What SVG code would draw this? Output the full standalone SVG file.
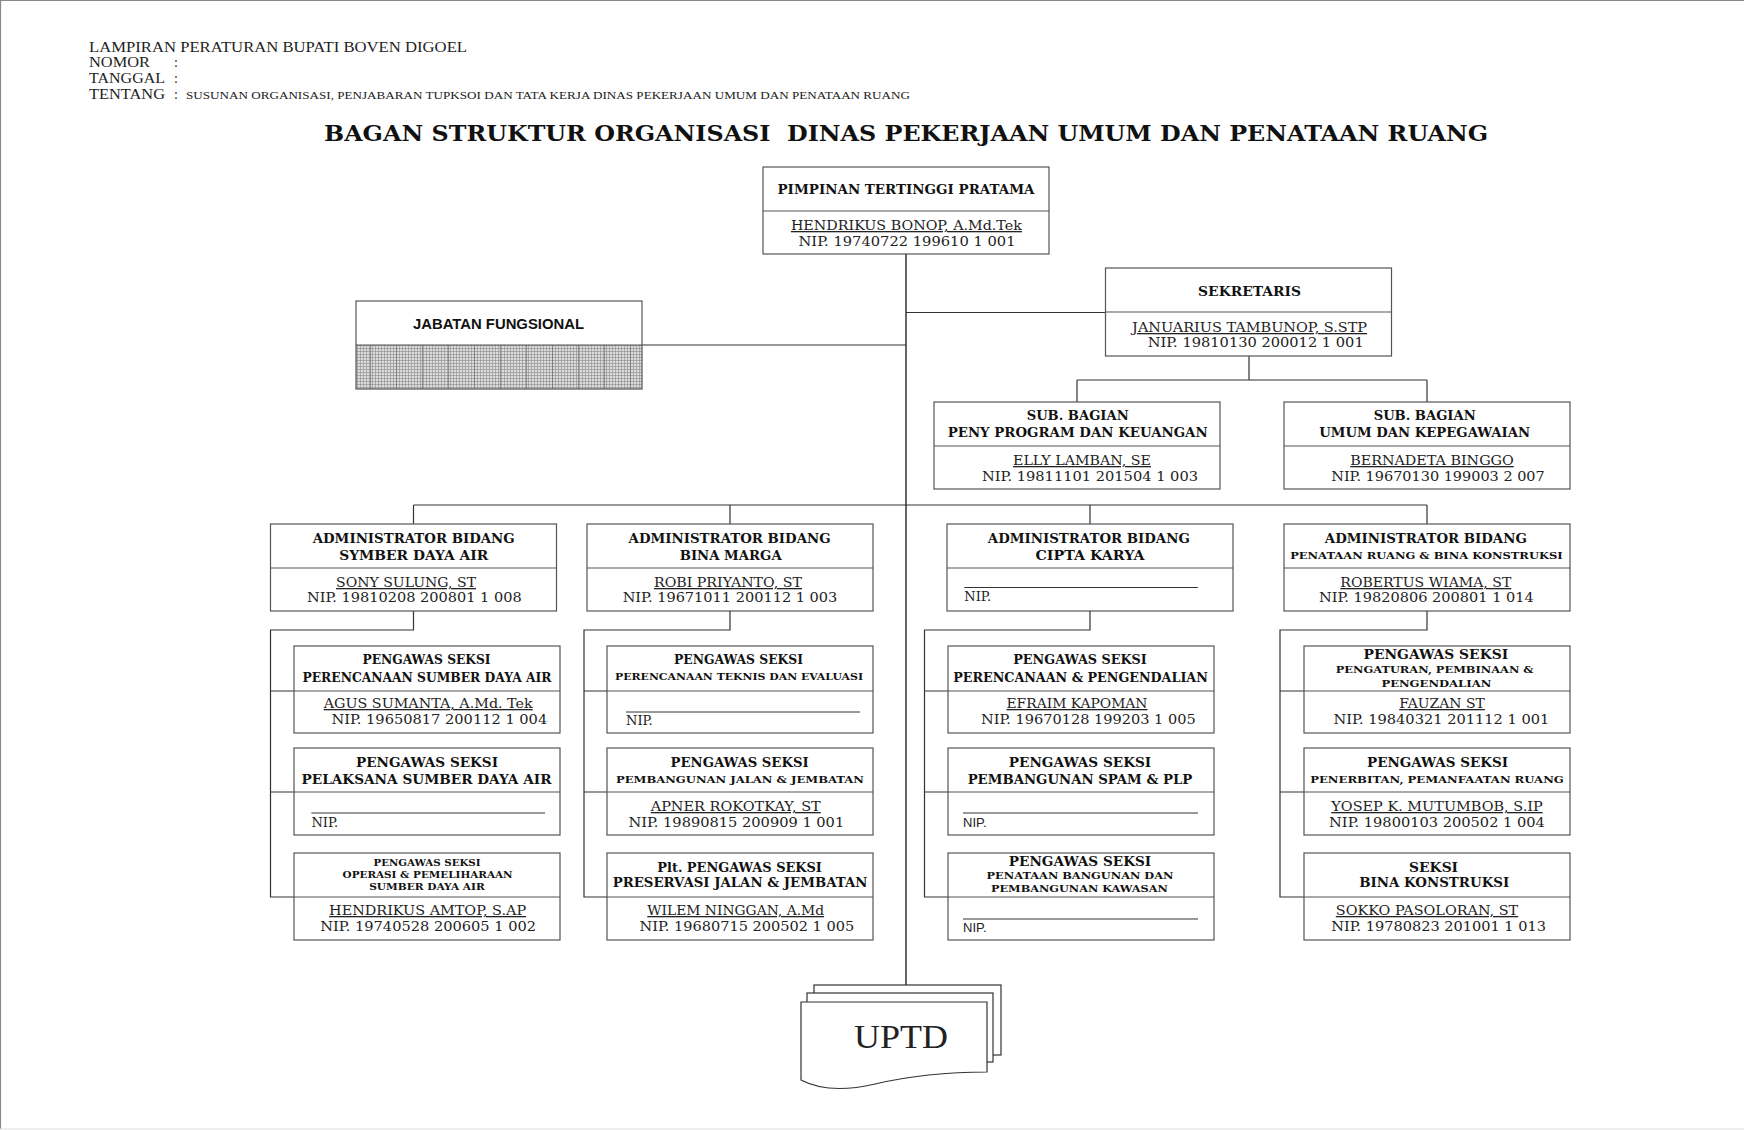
<svg xmlns="http://www.w3.org/2000/svg" width="1744" height="1130" viewBox="0 0 1744 1130">
<defs>
<style>
.bx{fill:#fff;stroke:#555;stroke-width:1.2}
.dv{fill:none;stroke:#555;stroke-width:1.2}
.ln{fill:none;stroke:#333;stroke-width:1.2}
.hd{font-family:"Liberation Serif",serif;font-size:14px;fill:#222}
.tt{font-family:"DejaVu Serif",serif;font-weight:bold;font-size:22px;text-anchor:middle;fill:#111}
.t{font-family:"DejaVu Serif",serif;font-weight:bold;font-size:12px;text-anchor:middle;fill:#111}
.s{font-family:"DejaVu Serif",serif;font-weight:bold;font-size:9.5px;text-anchor:middle;fill:#111}
.n{font-family:"DejaVu Serif",serif;font-size:13px;text-anchor:middle;fill:#222}
.u{text-decoration:underline}
.l{text-anchor:start}
.sans{font-family:"Liberation Sans",Arial,sans-serif;font-size:13px;fill:#222}
.jf{font-family:"Liberation Sans",Arial,sans-serif;font-weight:bold;font-size:14.5px;text-anchor:middle;fill:#111}
.up{font-family:"Liberation Serif",serif;font-size:34px;text-anchor:middle;fill:#222}
</style>
<pattern id="grid" width="3" height="3" patternUnits="userSpaceOnUse">
<rect width="3" height="3" fill="#dcdcdc"/>
<path d="M0 0.5H3M0.5 0V3" stroke="#8a8a8a" stroke-width="0.6"/>
</pattern>
<pattern id="grid2" width="52" height="3" patternUnits="userSpaceOnUse">
<path d="M6.5 0V3M32.5 0V3" stroke="#666" stroke-width="0.6"/>
</pattern>
</defs>
<rect width="1744" height="1130" fill="#fff"/>
<path d="M0.5 1129V0.5H1744" fill="none" stroke="#888" stroke-width="1.2"/>
<path d="M0 1129H1744" fill="none" stroke="#ddd" stroke-width="1"/>

<g id="header">
<text class="hd" x="89" y="52" textLength="378" lengthAdjust="spacingAndGlyphs">LAMPIRAN PERATURAN BUPATI BOVEN DIGOEL</text>
<text class="hd" x="89" y="67" textLength="61" lengthAdjust="spacingAndGlyphs">NOMOR</text>
<text class="hd" x="174" y="67">:</text>
<text class="hd" x="89" y="83" textLength="76" lengthAdjust="spacingAndGlyphs">TANGGAL</text>
<text class="hd" x="174" y="83">:</text>
<text class="hd" x="89" y="99" textLength="76" lengthAdjust="spacingAndGlyphs">TENTANG</text>
<text class="hd" x="174" y="99">:</text>
<text class="hd" x="186" y="99" style="font-size:11px" textLength="724" lengthAdjust="spacingAndGlyphs">SUSUNAN ORGANISASI, PENJABARAN TUPKSOI DAN TATA KERJA DINAS PEKERJAAN UMUM DAN PENATAAN RUANG</text>
<text class="tt" x="906" y="141" textLength="1164" lengthAdjust="spacingAndGlyphs">BAGAN STRUKTUR ORGANISASI&#160; DINAS PEKERJAAN UMUM DAN PENATAAN RUANG</text>
</g>

<g id="connectors">
<path class="ln" d="M906 254V993" style="stroke-width:1.5"/>
<path class="ln" d="M642 345H906"/>
<path class="ln" d="M906 312.5H1105.5"/>
<path class="ln" d="M1249 356V380M1077 380H1427M1077 380V402M1427 380V402"/>
<path class="ln" d="M413.5 505H1427M413.5 505V524M730 505V524M1090 505V524M1427 505V524"/>
<path class="ln" d="M413.5 611V630H270.5V897H294M270.5 691H294M270.5 792H294"/>
<path class="ln" d="M730 611V630H584V897H607M584 691H607M584 792H607"/>
<path class="ln" d="M1090 611V630H924.5V897H948M924.5 691H948M924.5 792H948"/>
<path class="ln" d="M1427 611V630H1280V897H1304M1280 691H1304M1280 792H1304"/>
</g>

<g id="pimpinan">
<rect class="bx" x="763" y="167" width="286" height="87"/>
<path class="dv" d="M763 211H1049"/>
<text class="t" x="906" y="194" textLength="257" lengthAdjust="spacingAndGlyphs">PIMPINAN TERTINGGI PRATAMA</text>
<text class="n u" x="906.4" y="230" textLength="231" lengthAdjust="spacingAndGlyphs">HENDRIKUS BONOP, A.Md.Tek</text>
<text class="n" x="907" y="245.5" textLength="217" lengthAdjust="spacingAndGlyphs">NIP. 19740722 199610 1 001</text>
</g>

<g id="jabatan-fungsional">
<rect x="356" y="345" width="286" height="44" fill="url(#grid)"/>
<rect x="356" y="345" width="286" height="44" fill="url(#grid2)"/>
<rect class="bx" x="356" y="301" width="286" height="88" style="fill:none"/>
<path class="dv" d="M356 345H642"/>
<text class="jf" x="498.5" y="329" textLength="171" lengthAdjust="spacingAndGlyphs">JABATAN FUNGSIONAL</text>
</g>

<g id="sekretaris">
<rect class="bx" x="1105.5" y="268" width="286" height="88"/>
<path class="dv" d="M1105.5 312H1391.5"/>
<text class="t" x="1249.6" y="295.5" textLength="103" lengthAdjust="spacingAndGlyphs">SEKRETARIS</text>
<text class="n u" x="1249.6" y="332" textLength="235" lengthAdjust="spacingAndGlyphs">JANUARIUS TAMBUNOP, S.STP</text>
<text class="n" x="1255.7" y="347" textLength="216" lengthAdjust="spacingAndGlyphs">NIP. 19810130 200012 1 001</text>
</g>

<g id="subbag-program">
<rect class="bx" x="934" y="402" width="286" height="87"/>
<path class="dv" d="M934 446H1220"/>
<text class="t" x="1077.7" y="420" textLength="102" lengthAdjust="spacingAndGlyphs">SUB. BAGIAN</text>
<text class="t" x="1077.7" y="437" textLength="260" lengthAdjust="spacingAndGlyphs">PENY PROGRAM DAN KEUANGAN</text>
<text class="n u" x="1082" y="465" textLength="138" lengthAdjust="spacingAndGlyphs">ELLY LAMBAN, SE</text>
<text class="n" x="1090" y="481" textLength="216" lengthAdjust="spacingAndGlyphs">NIP. 19811101 201504 1 003</text>
</g>

<g id="subbag-umum">
<rect class="bx" x="1284" y="402" width="286" height="87"/>
<path class="dv" d="M1284 446H1570"/>
<text class="t" x="1424.7" y="420" textLength="102" lengthAdjust="spacingAndGlyphs">SUB. BAGIAN</text>
<text class="t" x="1424.7" y="437" textLength="211" lengthAdjust="spacingAndGlyphs">UMUM DAN KEPEGAWAIAN</text>
<text class="n u" x="1432" y="465" textLength="163.5" lengthAdjust="spacingAndGlyphs">BERNADETA BINGGO</text>
<text class="n" x="1438" y="481" textLength="213.5" lengthAdjust="spacingAndGlyphs">NIP. 19670130 199003 2 007</text>
</g>

<g id="bidang-sda">
<rect class="bx" x="270.5" y="524" width="286" height="87"/>
<path class="dv" d="M270.5 568H556.5"/>
<text class="t" x="413.7" y="543" textLength="202" lengthAdjust="spacingAndGlyphs">ADMINISTRATOR BIDANG</text>
<text class="t" x="413.7" y="560" textLength="149" lengthAdjust="spacingAndGlyphs">SYMBER DAYA AIR</text>
<text class="n u" x="406" y="587" textLength="140" lengthAdjust="spacingAndGlyphs">SONY SULUNG, ST</text>
<text class="n" x="414.3" y="602" textLength="214.7" lengthAdjust="spacingAndGlyphs">NIP. 19810208 200801 1 008</text>
</g>

<g id="bidang-binamarga">
<rect class="bx" x="587" y="524" width="286" height="87"/>
<path class="dv" d="M587 568H873"/>
<text class="t" x="729.6" y="543" textLength="202" lengthAdjust="spacingAndGlyphs">ADMINISTRATOR BIDANG</text>
<text class="t" x="730.7" y="560" textLength="102" lengthAdjust="spacingAndGlyphs">BINA MARGA</text>
<text class="n u" x="728" y="587" textLength="148" lengthAdjust="spacingAndGlyphs">ROBI PRIYANTO, ST</text>
<text class="n" x="730" y="602" textLength="214.7" lengthAdjust="spacingAndGlyphs">NIP. 19671011 200112 1 003</text>
</g>

<g id="bidang-ciptakarya">
<rect class="bx" x="947" y="524" width="286" height="87"/>
<path class="dv" d="M947 568H1233"/>
<text class="t" x="1088.8" y="543" textLength="202" lengthAdjust="spacingAndGlyphs">ADMINISTRATOR BIDANG</text>
<text class="t" x="1090" y="560" textLength="109" lengthAdjust="spacingAndGlyphs">CIPTA KARYA</text>
<path class="ln" d="M964.3 587.5H1197.8" style="stroke-width:1"/>
<text class="n l" x="964.3" y="601">NIP.</text>
</g>

<g id="bidang-penataanruang">
<rect class="bx" x="1284" y="524" width="286" height="87"/>
<path class="dv" d="M1284 568H1570"/>
<text class="t" x="1425.8" y="543" textLength="202" lengthAdjust="spacingAndGlyphs">ADMINISTRATOR BIDANG</text>
<text class="s" x="1426.4" y="559" textLength="272.5" lengthAdjust="spacingAndGlyphs">PENATAAN RUANG &amp; BINA KONSTRUKSI</text>
<text class="n u" x="1425.8" y="587" textLength="171" lengthAdjust="spacingAndGlyphs">ROBERTUS WIAMA, ST</text>
<text class="n" x="1426.4" y="602" textLength="214.7" lengthAdjust="spacingAndGlyphs">NIP. 19820806 200801 1 014</text>
</g>

<g id="seksi-perencanaan-sda">
<rect class="bx" x="294" y="646" width="266" height="87"/>
<path class="dv" d="M294 691H560"/>
<text class="t" x="426.5" y="664" textLength="128" lengthAdjust="spacingAndGlyphs">PENGAWAS SEKSI</text>
<text class="t" x="427" y="682" textLength="249" lengthAdjust="spacingAndGlyphs">PERENCANAAN SUMBER DAYA AIR</text>
<text class="n u" x="428.2" y="708" textLength="209" lengthAdjust="spacingAndGlyphs">AGUS SUMANTA, A.Md. Tek</text>
<text class="n" x="439.3" y="724" textLength="215.8" lengthAdjust="spacingAndGlyphs">NIP. 19650817 200112 1 004</text>
</g>
<g id="seksi-pelaksana-sda">
<rect class="bx" x="294" y="748" width="266" height="87"/>
<path class="dv" d="M294 792H560"/>
<text class="t" x="427" y="767" textLength="142" lengthAdjust="spacingAndGlyphs">PENGAWAS SEKSI</text>
<text class="t" x="426.5" y="784" textLength="250" lengthAdjust="spacingAndGlyphs">PELAKSANA SUMBER DAYA AIR</text>
<path class="ln" d="M311.4 813H545" style="stroke-width:1"/>
<text class="n l" x="311.4" y="827">NIP.</text>
</g>
<g id="seksi-operasi-sda">
<rect class="bx" x="294" y="853" width="266" height="87"/>
<path class="dv" d="M294 897H560"/>
<text class="s" x="427" y="866" textLength="107" lengthAdjust="spacingAndGlyphs">PENGAWAS SEKSI</text>
<text class="s" x="427.6" y="878" textLength="170" lengthAdjust="spacingAndGlyphs">OPERASI &amp; PEMELIHARAAN</text>
<text class="s" x="427" y="890" textLength="115.7" lengthAdjust="spacingAndGlyphs">SUMBER DAYA AIR</text>
<text class="n u" x="427.6" y="915" textLength="197" lengthAdjust="spacingAndGlyphs">HENDRIKUS AMTOP, S.AP</text>
<text class="n" x="428.2" y="931" textLength="215.8" lengthAdjust="spacingAndGlyphs">NIP. 19740528 200605 1 002</text>
</g>

<g id="seksi-teknis-evaluasi">
<rect class="bx" x="607" y="646" width="266" height="87"/>
<path class="dv" d="M607 691H873"/>
<text class="t" x="738.5" y="664" textLength="129" lengthAdjust="spacingAndGlyphs">PENGAWAS SEKSI</text>
<text class="s" x="739" y="680" textLength="248" lengthAdjust="spacingAndGlyphs">PERENCANAAN TEKNIS DAN EVALUASI</text>
<path class="ln" d="M626 712H860" style="stroke-width:1"/>
<text class="n l" x="626" y="725">NIP.</text>
</g>
<g id="seksi-pembangunan-jalan">
<rect class="bx" x="607" y="748" width="266" height="87"/>
<path class="dv" d="M607 792H873"/>
<text class="t" x="739.6" y="767" textLength="138" lengthAdjust="spacingAndGlyphs">PENGAWAS SEKSI</text>
<text class="s" x="740" y="783" textLength="248" lengthAdjust="spacingAndGlyphs">PEMBANGUNAN JALAN &amp; JEMBATAN</text>
<text class="n u" x="735.7" y="811" textLength="170" lengthAdjust="spacingAndGlyphs">APNER ROKOTKAY, ST</text>
<text class="n" x="736.3" y="826.5" textLength="215.8" lengthAdjust="spacingAndGlyphs">NIP. 19890815 200909 1 001</text>
</g>
<g id="seksi-preservasi-jalan">
<rect class="bx" x="607" y="853" width="266" height="87"/>
<path class="dv" d="M607 897H873"/>
<text class="t" x="739.6" y="872" textLength="164.6" lengthAdjust="spacingAndGlyphs">Plt. PENGAWAS SEKSI</text>
<text class="t" x="740" y="887" textLength="254.7" lengthAdjust="spacingAndGlyphs">PRESERVASI JALAN &amp; JEMBATAN</text>
<text class="n u" x="735.7" y="915" textLength="176.8" lengthAdjust="spacingAndGlyphs">WILEM NINGGAN, A.Md</text>
<text class="n" x="746.8" y="931" textLength="214.7" lengthAdjust="spacingAndGlyphs">NIP. 19680715 200502 1 005</text>
</g>

<g id="seksi-perencanaan-pengendalian">
<rect class="bx" x="948" y="646" width="266" height="87"/>
<path class="dv" d="M948 691H1214"/>
<text class="t" x="1080" y="664" textLength="133.5" lengthAdjust="spacingAndGlyphs">PENGAWAS SEKSI</text>
<text class="t" x="1080.5" y="682" textLength="254.7" lengthAdjust="spacingAndGlyphs">PERENCANAAN &amp; PENGENDALIAN</text>
<text class="n u" x="1077" y="708" textLength="141" lengthAdjust="spacingAndGlyphs">EFRAIM KAPOMAN</text>
<text class="n" x="1088.3" y="724" textLength="214.7" lengthAdjust="spacingAndGlyphs">NIP. 19670128 199203 1 005</text>
</g>
<g id="seksi-spam-plp">
<rect class="bx" x="948" y="748" width="266" height="87"/>
<path class="dv" d="M948 792H1214"/>
<text class="t" x="1080" y="767" textLength="142.4" lengthAdjust="spacingAndGlyphs">PENGAWAS SEKSI</text>
<text class="t" x="1080" y="784" textLength="224.7" lengthAdjust="spacingAndGlyphs">PEMBANGUNAN SPAM &amp; PLP</text>
<path class="ln" d="M963 813H1198" style="stroke-width:1"/>
<text class="sans" x="963" y="827">NIP.</text>
</g>
<g id="seksi-penataan-bangunan">
<rect class="bx" x="948" y="853" width="266" height="87"/>
<path class="dv" d="M948 897H1214"/>
<text class="t" x="1080" y="866" textLength="142.4" lengthAdjust="spacingAndGlyphs">PENGAWAS SEKSI</text>
<text class="s" x="1080" y="879" textLength="186.9" lengthAdjust="spacingAndGlyphs">PENATAAN BANGUNAN DAN</text>
<text class="s" x="1079.4" y="892" textLength="176.8" lengthAdjust="spacingAndGlyphs">PEMBANGUNAN KAWASAN</text>
<path class="ln" d="M963 919H1198" style="stroke-width:1"/>
<text class="sans" x="963" y="932">NIP.</text>
</g>

<g id="seksi-pengaturan">
<rect class="bx" x="1304" y="646" width="266" height="87"/>
<path class="dv" d="M1304 691H1570"/>
<text class="t" x="1435.8" y="659" textLength="144.6" lengthAdjust="spacingAndGlyphs">PENGAWAS SEKSI</text>
<text class="s" x="1434.7" y="673" textLength="198" lengthAdjust="spacingAndGlyphs">PENGATURAN, PEMBINAAN &amp;</text>
<text class="s" x="1436.4" y="687" textLength="110" lengthAdjust="spacingAndGlyphs">PENGENDALIAN</text>
<text class="n u" x="1442" y="708" textLength="85.6" lengthAdjust="spacingAndGlyphs">FAUZAN ST</text>
<text class="n" x="1441.4" y="724" textLength="215.8" lengthAdjust="spacingAndGlyphs">NIP. 19840321 201112 1 001</text>
</g>
<g id="seksi-penerbitan">
<rect class="bx" x="1304" y="748" width="266" height="87"/>
<path class="dv" d="M1304 792H1570"/>
<text class="t" x="1437.5" y="767" textLength="141" lengthAdjust="spacingAndGlyphs">PENGAWAS SEKSI</text>
<text class="s" x="1437" y="783" textLength="253.6" lengthAdjust="spacingAndGlyphs">PENERBITAN, PEMANFAATAN RUANG</text>
<text class="n u" x="1437" y="811" textLength="211.3" lengthAdjust="spacingAndGlyphs">YOSEP K. MUTUMBOB, S.IP</text>
<text class="n" x="1437" y="826.5" textLength="215.8" lengthAdjust="spacingAndGlyphs">NIP. 19800103 200502 1 004</text>
</g>
<g id="seksi-bina-konstruksi">
<rect class="bx" x="1304" y="853" width="266" height="87"/>
<path class="dv" d="M1304 897H1570"/>
<text class="t" x="1433.6" y="872" textLength="49" lengthAdjust="spacingAndGlyphs">SEKSI</text>
<text class="t" x="1434.2" y="887" textLength="150" lengthAdjust="spacingAndGlyphs">BINA KONSTRUKSI</text>
<text class="n u" x="1427" y="915" textLength="182.4" lengthAdjust="spacingAndGlyphs">SOKKO PASOLORAN, ST</text>
<text class="n" x="1438.6" y="931" textLength="214.7" lengthAdjust="spacingAndGlyphs">NIP. 19780823 201001 1 013</text>
</g>

<g id="uptd">
<rect x="814" y="985" width="187" height="70" fill="#fff" stroke="#333" stroke-width="1.2"/>
<rect x="807" y="993" width="186" height="69" fill="#fff" stroke="#333" stroke-width="1.2"/>
<path d="M801 1002H987V1072C945 1072 905 1077 875 1084C845 1091 820 1090 801 1080Z" fill="#fff" stroke="#333" stroke-width="1.2"/>
<text class="up" x="901" y="1048" textLength="94" lengthAdjust="spacingAndGlyphs">UPTD</text>
</g>
</svg>
